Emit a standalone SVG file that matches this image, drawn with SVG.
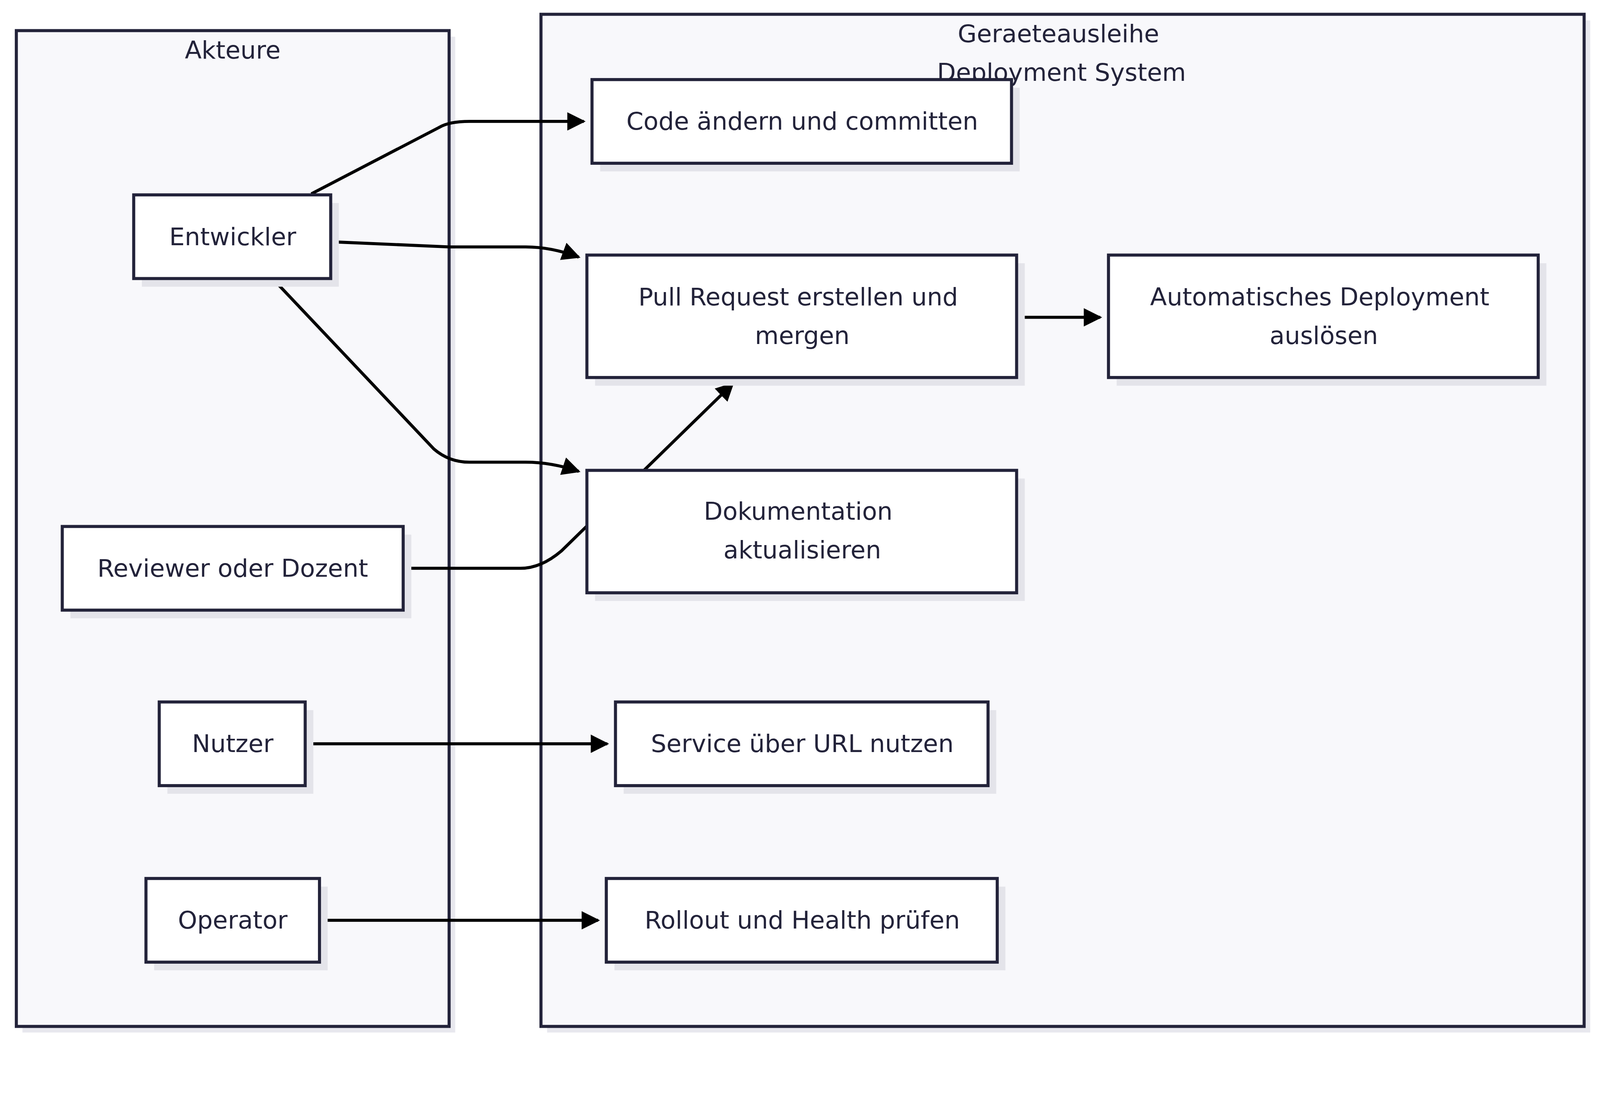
<svg xmlns="http://www.w3.org/2000/svg" width="4320" height="2812" viewBox="0 0 4320 2812">
<style>
.cl{fill:#f8f8fb;stroke:#23233a;stroke-width:3}
.cs{fill:#e8e8ee}
.n{fill:#ffffff;stroke:#23233a;stroke-width:3}
.sh{fill:#e4e4ea}
text{font-family:"DejaVu Sans","Noto Sans",sans-serif;font-size:24px;fill:#23233a;text-anchor:middle;dominant-baseline:central}
.e{fill:none;stroke:#000;stroke-width:3;marker-end:url(#a)}
</style>
<defs><marker id="a" viewBox="0 0 10 10" refX="9" refY="5" markerWidth="18" markerHeight="18" orient="auto" markerUnits="userSpaceOnUse"><path d="M0,0L10,5L0,10z" fill="#000"/></marker></defs>
<rect width="4320" height="2812" fill="#fff"/>
<g transform="scale(2.613)">
<g id="akteure"><rect class="cs" x="22" y="36" width="424" height="976"/><rect class="cl" x="16" y="30" width="424" height="976"/><text x="228" y="49">Akteure</text></g>
<g id="system"><rect class="cs" x="536" y="20" width="1022" height="992"/><rect class="cl" x="530" y="14" width="1022" height="992"/><text x="1037" y="33">Geraeteausleihe</text><text x="1040" y="71">Deployment System</text></g>
<g id="connectors">
<path class="e" d="M305,190 L430,125 Q440,119 460,119 L572,119"/>
<path class="e" d="M325,237 L440,242 L515,242 Q540,242 567,252"/>
<path class="e" d="M268,274 L425,440 Q440,453 460,453 L515,453 Q540,453 567,462"/>
<path class="e" d="M395,557 L510,557 Q530,557 550,540 L718,376"/>
<path class="e" d="M997,311 L1078,311"/>
<path class="e" d="M300,729 L595,729"/>
<path class="e" d="M313,902 L586,902"/>
</g>
<g id="entwickler"><rect class="sh" x="139" y="199" width="193" height="82"/><rect class="n" x="131" y="191" width="193" height="82"/><text x="228" y="232">Entwickler</text></g>
<g id="reviewer"><rect class="sh" x="69" y="524" width="334" height="82"/><rect class="n" x="61" y="516" width="334" height="82"/><text x="228" y="557">Reviewer oder Dozent</text></g>
<g id="nutzer"><rect class="sh" x="164" y="696" width="143" height="82"/><rect class="n" x="156" y="688" width="143" height="82"/><text x="228" y="729">Nutzer</text></g>
<g id="operator"><rect class="sh" x="151" y="869" width="170" height="82"/><rect class="n" x="143" y="861" width="170" height="82"/><text x="228" y="902">Operator</text></g>
<g id="code"><rect class="sh" x="588" y="86" width="411" height="82"/><rect class="n" x="580" y="78" width="411" height="82"/><text x="786" y="119">Code ändern und committen</text></g>
<g id="pr"><rect class="sh" x="583" y="258" width="421" height="120"/><rect class="n" x="575" y="250" width="421" height="120"/><text x="782" y="291">Pull Request erstellen und</text><text x="786" y="329">mergen</text></g>
<g id="auto"><rect class="sh" x="1094" y="258" width="421" height="120"/><rect class="n" x="1086" y="250" width="421" height="120"/><text x="1293" y="291">Automatisches Deployment</text><text x="1297" y="329">auslösen</text></g>
<g id="doku"><rect class="sh" x="583" y="469" width="421" height="120"/><rect class="n" x="575" y="461" width="421" height="120"/><text x="782" y="501">Dokumentation</text><text x="786" y="539">aktualisieren</text></g>
<g id="service"><rect class="sh" x="611" y="696" width="365" height="82"/><rect class="n" x="603" y="688" width="365" height="82"/><text x="786" y="729">Service über URL nutzen</text></g>
<g id="rollout"><rect class="sh" x="602" y="869" width="383" height="82"/><rect class="n" x="594" y="861" width="383" height="82"/><text x="786" y="902">Rollout und Health prüfen</text></g>
</g>
</svg>
